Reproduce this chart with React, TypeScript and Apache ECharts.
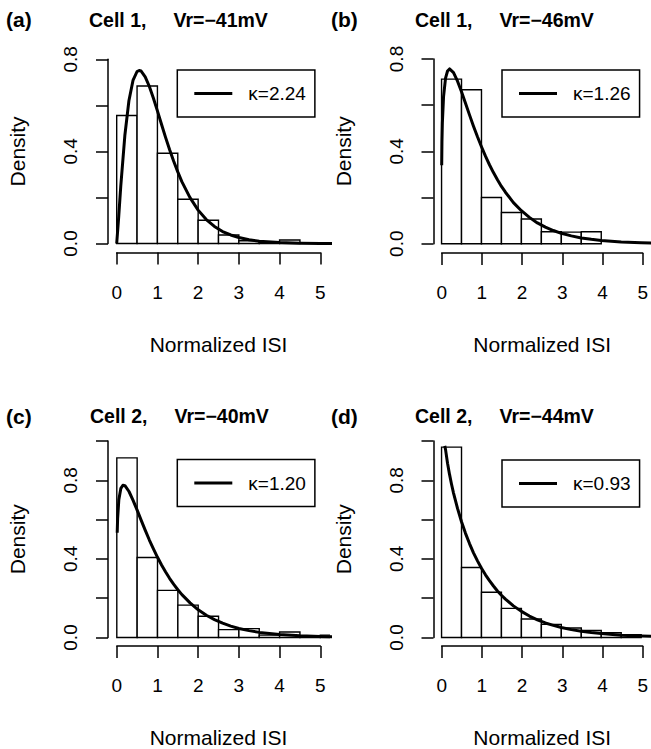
import React, { useEffect, useRef } from "react";
import * as echarts from "echarts";

// ---------- data ----------
const binStarts = [0, 0.5, 1, 1.5, 2, 2.5, 3, 3.5, 4, 4.5, 5];
const binWidth = 0.5;

const densityA = [0.556, 0.684, 0.392, 0.192, 0.101, 0.037, 0.012, 0.005, 0.015];
const densityB = [0.713, 0.667, 0.2, 0.135, 0.107, 0.052, 0.05, 0.052];
const densityC = [0.914, 0.407, 0.24, 0.165, 0.108, 0.04, 0.045, 0.012, 0.028, 0.007, 0.012];
const densityD = [0.969, 0.356, 0.23, 0.148, 0.094, 0.067, 0.048, 0.036, 0.024, 0.014];

const curveAx = [0, 0.05, 0.1, 0.2, 0.3, 0.4, 0.5, 0.55, 0.6, 0.7, 0.8, 0.9, 1.0, 1.1, 1.2, 1.3, 1.4, 1.5, 1.6, 1.8, 2.0, 2.2, 2.4, 2.6, 2.8, 3.0, 3.25, 3.5, 4.0, 4.5, 5.0, 5.4];
const curveAy = [0, 0.118, 0.249, 0.469, 0.62, 0.708, 0.747, 0.751, 0.749, 0.724, 0.683, 0.632, 0.576, 0.518, 0.461, 0.407, 0.357, 0.311, 0.269, 0.199, 0.145, 0.104, 0.074, 0.052, 0.037, 0.026, 0.016, 0.01, 0.004, 0.0015, 0.0005, 0.0002];

const curveBx = [0.004, 0.01, 0.02, 0.05, 0.1, 0.15, 0.2, 0.3, 0.4, 0.5, 0.6, 0.7, 0.8, 0.9, 1.0, 1.1, 1.2, 1.3, 1.4, 1.5, 1.6, 1.8, 2.0, 2.2, 2.4, 2.6, 2.8, 3.0, 3.25, 3.5, 3.75, 4.0, 4.5, 5.0, 5.4];
const curveBy = [0.34, 0.441, 0.522, 0.637, 0.717, 0.748, 0.757, 0.741, 0.704, 0.658, 0.608, 0.558, 0.509, 0.463, 0.42, 0.379, 0.342, 0.308, 0.277, 0.248, 0.223, 0.178, 0.143, 0.114, 0.09, 0.072, 0.057, 0.045, 0.034, 0.025, 0.019, 0.014, 0.0075, 0.0041, 0.0025];

const curveCx = [0.01, 0.02, 0.05, 0.1, 0.15, 0.2, 0.3, 0.4, 0.5, 0.6, 0.7, 0.8, 0.9, 1.0, 1.1, 1.2, 1.3, 1.4, 1.5, 1.6, 1.8, 2.0, 2.2, 2.4, 2.6, 2.8, 3.0, 3.25, 3.5, 3.75, 4.0, 4.5, 5.0, 5.4];
const curveCy = [0.533, 0.605, 0.701, 0.759, 0.775, 0.773, 0.743, 0.698, 0.648, 0.596, 0.545, 0.496, 0.451, 0.408, 0.369, 0.333, 0.3, 0.27, 0.243, 0.218, 0.176, 0.141, 0.113, 0.091, 0.073, 0.058, 0.046, 0.035, 0.026, 0.02, 0.015, 0.0083, 0.0046, 0.0028];

const curveDx = [0.08, 0.1, 0.15, 0.2, 0.25, 0.3, 0.4, 0.5, 0.6, 0.7, 0.8, 0.9, 1.0, 1.1, 1.2, 1.3, 1.4, 1.5, 1.6, 1.8, 2.0, 2.2, 2.4, 2.6, 2.8, 3.0, 3.25, 3.5, 3.75, 4.0, 4.5, 5.0, 5.4];
const curveDy = [0.975, 0.956, 0.887, 0.83, 0.78, 0.735, 0.657, 0.589, 0.53, 0.478, 0.431, 0.39, 0.352, 0.319, 0.289, 0.262, 0.237, 0.215, 0.195, 0.161, 0.133, 0.109, 0.09, 0.074, 0.062, 0.051, 0.04, 0.032, 0.025, 0.02, 0.012, 0.0076, 0.0053];

const panelTags = ["(a)", "(b)", "(c)", "(d)"];
const panelTitles = [
  "Cell 1,\u00a0\u00a0\u00a0\u00a0\u00a0Vr=\u221241mV",
  "Cell 1,\u00a0\u00a0\u00a0\u00a0\u00a0Vr=\u221246mV",
  "Cell 2,\u00a0\u00a0\u00a0\u00a0\u00a0Vr=\u221240mV",
  "Cell 2,\u00a0\u00a0\u00a0\u00a0\u00a0Vr=\u221244mV",
];
const kappaLabels = ["\u03ba=2.24", "\u03ba=1.26", "\u03ba=1.20", "\u03ba=0.93"];
const yTopTicks = [0.8, 0.8, 1.0, 1.0];
const xTickMin = 0;
const xTickMax = 5;
const xTickStep = 1;
const yTickStep = 0.2;
const xAxisTitle = "Normalized ISI";
const yAxisTitle = "Density";

const densities = [densityA, densityB, densityC, densityD];
const curvesX = [curveAx, curveBx, curveCx, curveDx];
const curvesY = [curveAy, curveBy, curveCy, curveDy];

// ---------- layout (pixels) ----------
const LAYOUT = [
  { axX: 108, x0: 116.7, x5: 320.3, right: 330, xLineY: 252.5, y0: 243.5, yTopPx: 59.3, tagX: 6, tagY: 8.5, titleX: 89, titleY: 9.5, legX: 177.3, legY: 70 },
  { axX: 433.5, x0: 441.7, x5: 645, right: 655, xLineY: 253, y0: 243.7, yTopPx: 59, tagX: 331, tagY: 8.5, titleX: 415, titleY: 9.5, legX: 502, legY: 70 },
  { axX: 108, x0: 116.8, x5: 320.3, right: 330, xLineY: 646.5, y0: 637.5, yTopPx: 441, tagX: 6, tagY: 405.5, titleX: 90, titleY: 406, legX: 177.3, legY: 459.5 },
  { axX: 433.5, x0: 441.7, x5: 645, right: 655, xLineY: 646.5, y0: 637.5, yTopPx: 441, tagX: 331, tagY: 405.5, titleX: 415, titleY: 406, legX: 502, legY: 460 },
];

const FONT = "'Liberation Sans', Arial, Helvetica, sans-serif";

function buildOption() {
  const grid: any[] = [];
  const xAxis: any[] = [];
  const yAxis: any[] = [];
  const series: any[] = [];
  const legend: any[] = [];
  const title: any[] = [];

  LAYOUT.forEach((L, i) => {
    const pxPerX = (L.x5 - L.x0) / (xTickMax - xTickMin);
    const pxPerY = (L.y0 - L.yTopPx) / yTopTicks[i];
    const gridTop = L.yTopPx - 10;
    const g = i * 3;

    // data grid
    grid.push({ left: L.axX, top: gridTop, width: L.right - L.axX, height: L.xLineY - gridTop });
    xAxis.push({ gridIndex: g, type: "value", show: false, min: (L.axX - L.x0) / pxPerX, max: (L.right - L.x0) / pxPerX });
    yAxis.push({ gridIndex: g, type: "value", show: false, min: -(L.xLineY - L.y0) / pxPerY, max: (L.y0 - gridTop) / pxPerY });

    // visible x axis (spans 0..5 only)
    grid.push({ left: L.x0, top: L.xLineY - 10, width: L.x5 - L.x0, height: 10 });
    xAxis.push({
      gridIndex: g + 1,
      type: "value",
      min: xTickMin,
      max: xTickMax,
      interval: xTickStep,
      position: "bottom",
      axisLine: { show: true, onZero: false, lineStyle: { color: "#000", width: 1.5 } },
      axisTick: { show: true, length: 12, lineStyle: { color: "#000", width: 1.5 } },
      axisLabel: { margin: 30, fontSize: 19, color: "#000", fontFamily: FONT },
      splitLine: { show: false },
      name: xAxisTitle,
      nameLocation: "middle",
      nameGap: 81,
      nameTextStyle: { fontSize: 21, color: "#000", fontFamily: FONT },
    });
    yAxis.push({ gridIndex: g + 1, type: "value", show: false, min: 0, max: 1 });

    // visible y axis
    grid.push({ left: L.axX, top: L.yTopPx, width: 10, height: L.y0 - L.yTopPx });
    xAxis.push({ gridIndex: g + 2, type: "value", show: false, min: 0, max: 1 });
    yAxis.push({
      gridIndex: g + 2,
      type: "value",
      min: 0,
      max: yTopTicks[i],
      interval: yTickStep,
      position: "left",
      axisLine: { show: true, onZero: false, lineStyle: { color: "#000", width: 1.5 } },
      axisTick: { show: true, length: 12, lineStyle: { color: "#000", width: 1.5 } },
      axisLabel: {
        rotate: 90,
        margin: 28,
        fontSize: 19,
        color: "#000",
        fontFamily: FONT,
        formatter: (v: number) => (Math.round(v * 10) % 4 === 0 ? v.toFixed(1) : ""),
      },
      splitLine: { show: false },
      name: yAxisTitle,
      nameLocation: "middle",
      nameGap: 80,
      nameTextStyle: { fontSize: 21, color: "#000", fontFamily: FONT },
    });

    // histogram bars
    const bars = densities[i].map((d, k) => [binStarts[k], binStarts[k] + binWidth, d]);
    series.push({
      type: "custom",
      xAxisIndex: g,
      yAxisIndex: g,
      clip: true,
      silent: true,
      encode: { x: [0, 1], y: 2 },
      data: bars,
      z: 2,
      renderItem: (params: any, api: any) => {
        const tl = api.coord([api.value(0), api.value(2)]);
        const br = api.coord([api.value(1), 0]);
        return {
          type: "rect",
          shape: { x: tl[0], y: tl[1], width: br[0] - tl[0], height: br[1] - tl[1] },
          style: { fill: "#fff", stroke: "#000", lineWidth: 1.4 },
        };
      },
    });

    // fitted density curve
    series.push({
      type: "line",
      name: kappaLabels[i],
      xAxisIndex: g,
      yAxisIndex: g,
      data: curvesX[i].map((x, k) => [x, curvesY[i][k]]),
      symbol: "none",
      smooth: false,
      clip: true,
      z: 3,
      lineStyle: { color: "#000", width: 3, join: "round" },
      itemStyle: { color: "#000" },
    });

    legend.push({
      left: L.legX,
      top: L.legY,
      data: [kappaLabels[i]],
      icon: "rect",
      selectedMode: false,
      borderColor: "#000",
      borderWidth: 1.5,
      borderRadius: 0,
      padding: [14, 9, 14, 17],
      itemWidth: 38,
      itemHeight: 3,
      itemStyle: { color: "#000" },
      textStyle: { fontSize: 19, color: "#000", fontFamily: FONT, padding: [0, 0, 0, 11] },
    });

    title.push({
      text: panelTags[i],
      left: L.tagX,
      top: L.tagY,
      padding: 0,
      textStyle: { fontSize: 21, fontWeight: "bold", color: "#000", fontFamily: FONT },
    });
    title.push({
      text: panelTitles[i],
      left: L.titleX,
      top: L.titleY,
      padding: 0,
      textStyle: { fontSize: 19.5, fontWeight: "bold", color: "#000", fontFamily: FONT },
    });
  });

  return {
    animation: false,
    backgroundColor: "#fff",
    textStyle: { fontFamily: FONT },
    title,
    legend,
    grid,
    xAxis,
    yAxis,
    series,
  };
}

export default function App() {
  const ref = useRef<HTMLDivElement>(null);
  useEffect(() => {
    if (!ref.current) return;
    const chart = echarts.init(ref.current, null, { renderer: "svg" });
    chart.setOption(buildOption() as any);
    return () => chart.dispose();
  }, []);
  return (
    <div
      ref={ref}
      style={{ position: "absolute", left: 0, top: 0, width: 651, height: 749, background: "#fff" }}
    />
  );
}
